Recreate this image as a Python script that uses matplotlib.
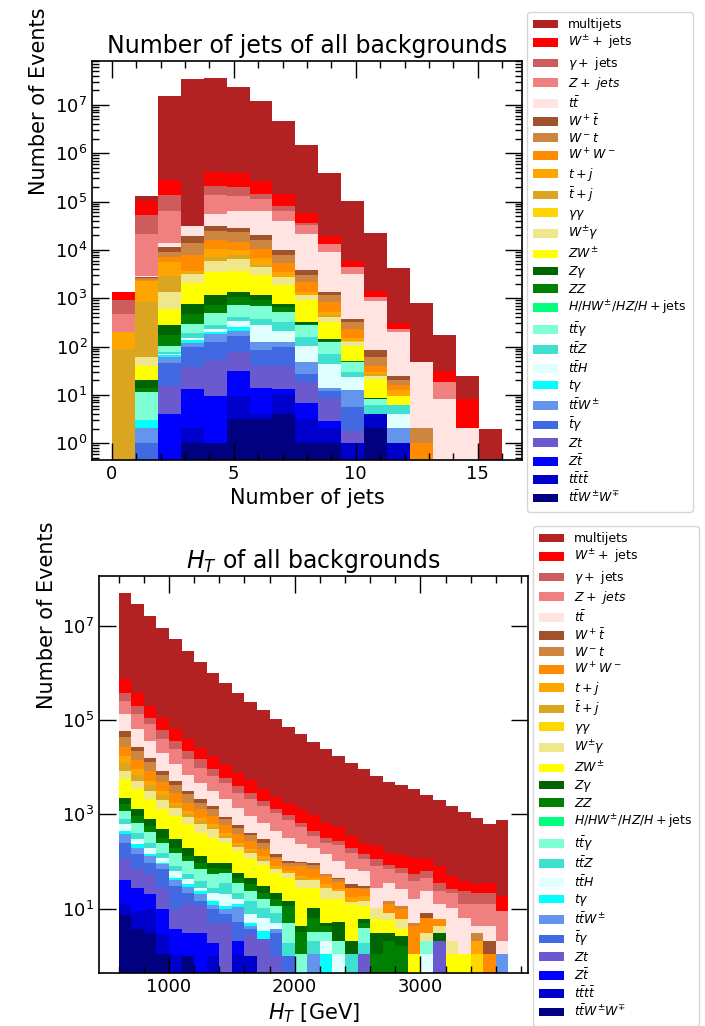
import numpy as np
import matplotlib.pyplot as plt
from matplotlib.ticker import MultipleLocator, LogLocator, NullLocator, FixedLocator, LogFormatterSciNotation

# samples in legend order (top of the stack first)
labels = ['multijets', r'$W^{\pm}+$ jets', r'$\gamma+$ jets', r'$Z+\ jets$', r'$t\bar{t}$',
          r'$W^+\bar{t}$', r'$W^-t$', r'$W^+W^-$', r'$t+j$', r'$\bar{t}+j$', r'$\gamma\gamma$',
          r'$W^{\pm}\gamma$', r'$ZW^{\pm}$', r'$Z\gamma$', r'$ZZ$', r'$H/HW^{\pm}/HZ/H+$jets',
          r'$t\bar{t}\gamma$', r'$t\bar{t}Z$', r'$t\bar{t}H$', r'$t\gamma$', r'$t\bar{t}W^{\pm}$',
          r'$\bar{t}\gamma$', r'$Zt$', r'$Z\bar{t}$', r'$t\bar{t}t\bar{t}$', r'$t\bar{t}W^{\pm}W^{\mp}$']
colors = ['firebrick', 'red', 'indianred', 'lightcoral', 'mistyrose', 'sienna', 'peru',
          'darkorange', 'orange', 'goldenrod', 'gold', 'khaki', 'yellow', 'darkgreen', 'green',
          'springgreen', 'aquamarine', 'turquoise', 'lightcyan', 'cyan', 'cornflowerblue',
          'royalblue', 'slateblue', 'blue', 'mediumblue', 'navy']

# ---- number of jets: 17 bins between 0 and 16 ----
nj_edges = np.linspace(0, 16, 18)
nj_multijets = [0, 26500, 1.52e7, 3.39e7, 3.59e7, 2.30e7, 1.15e7, 4.43e6, 1.42e6, 3.79e5, 9.64e4, 2.10e4, 3860, 747, 138, 17, 2.0]
nj_wjets = [437, 48600, 142000, 0, 203000, 199000, 122000, 61900, 21200, 6160, 1420, 341, 75, 0, 13.4, 6.0, 0]
nj_gjets = [433, 32300, 70300, 0, 80400, 70700, 29100, 16300, 3200, 0, 0, 0, 0, 0, 0, 0, 0]
nj_zjets = [279, 18500, 49000, 0, 77200, 65700, 49100, 24200, 11700, 4220, 1230, 181, 34, 0, 10.1, 0, 0]
nj_tt = [0, 130, 2910, 12600, 24600, 34900, 42700, 29100, 17600, 7770, 2860, 806, 175, 44.7, 8.1, 2.1, 0]
nj_wptbar = [0, 184, 2100, 5250, 7630, 4740, 4200, 1830, 782, 201, 56, 23.4, 5.1, 0, 0, 0, 0]
nj_wmt = [0, 171, 1880, 5860, 7770, 8650, 5990, 2700, 832, 316, 90, 21.9, 4.2, 1.1, 0, 0, 0]
nj_ww = [0, 160, 1750, 4230, 5990, 4790, 3470, 1700, 839, 307, 83, 10.3, 3.2, 1.0, 0, 0, 0]
nj_tj = [113, 1410, 2610, 404, 2990, 2060, 1860, 794, 201, 78, 13, 2.6, 3.0, 0, 0, 0, 0]
nj_tbarj = [87, 770, 1540, 75, 1490, 1630, 533, 0, 0, 40, 6, 1.8, 0, 0, 0, 0, 0]
nj_aa = [0, 0, 0, 0, 0, 0, 0, 0, 0, 0, 6, 0, 0, 0, 0, 0, 0]
nj_wa = [0, 21.9, 746, 1190, 2210, 2600, 1350, 892, 236, 83, 21, 3.7, 0, 0, 0, 0, 0]
nj_zw = [0, 19.4, 328, 1270, 2400, 2370, 1870, 1090, 588, 179, 53.7, 12.7, 3.2, 0, 0, 0, 0]
nj_za = [0, 6.6, 105, 297, 440, 302, 236, 115, 36, 13, 2.3, 0.6, 0, 0, 0, 0, 0]
nj_zz = [0, 2.6, 65, 191, 218, 339, 236, 136, 13, 9, 2.2, 0, 0, 0, 0, 0, 0]
nj_h = [0, 0, 0, 0, 0, 0, 0, 0, 0, 0, 0, 0, 0, 0, 0, 0, 0]
nj_tta = [0, 8.1, 29, 97, 215, 301, 296, 201, 120, 52, 17.3, 1.8, 0, 0, 0, 0, 0]
nj_ttz = [0, 0, 5.1, 40, 41, 76, 105, 110, 50, 27, 6.6, 2.3, 2.3, 0, 0, 0, 0]
nj_tth = [0, 0, 4.7, 16, 34, 80, 152, 91, 58, 29.6, 10.3, 0, 1.9, 0, 0, 0, 0]
nj_ta = [0, 1.05, 5.8, 15, 22, 37, 0, 0, 0, 0, 0, 0, 0, 0, 0, 0, 0]
nj_ttw = [0, 1.04, 13.5, 22, 55, 52, 40, 25, 20, 2.1, 7.0, 0, 1.04, 0, 0, 0, 0]
nj_tbara = [0, 1.0, 31, 60, 72, 86, 43, 58, 8.7, 3.3, 3.8, 0, 0, 0, 0, 0, 0]
nj_zt = [0, 0, 11.5, 24, 42, 44, 26, 26.6, 11.3, 5.8, 0.8, 0, 0, 0, 0, 0, 0]
nj_ztbar = [0, 0, 4.0, 11.1, 8.6, 22, 9.8, 3.0, 3.8, 0.8, 0, 0, 0, 0, 0, 0, 0]
nj_tttt = [0, 0, 0, 1.1, 0, 6.5, 0.9, 6.2, 2.1, 1.1, 1.0, 1.9, 1.0, 0, 0, 0, 0]
nj_ttww = [0, 0, 0, 1.0, 1.0, 3.1, 3.1, 4.0, 1.0, 1.0, 0, 2.1, 0, 0, 0, 0, 0]

# ---- H_T: 100 GeV bins from 600 to 3700 GeV ----
ht_edges = np.arange(600, 3800, 100)
ht_multijets = [5.03e7, 2.84e7, 1.61e7, 9.1e6, 5.15e6, 2.9e6, 1.69e6, 1.0e6, 5.96e5, 3.78e5, 2.43e5, 1.58e5, 1.06e5, 7.11e4, 4.88e4, 3.34e4, 2.43e4, 1.69e4, 1.22e4, 9100, 6320, 4730, 4000, 3280, 2470, 1940, 1460, 1090, 793, 579, 741]
ht_wjets = [3.53e5, 1.85e5, 87000, 51100, 27900, 17100, 11300, 8050, 4970, 3440, 2570, 1590, 1100, 815, 612, 510, 325, 278, 150, 109, 102, 71, 63, 67.5, 48, 44.6, 23.6, 14.8, 10.9, 13.8, 9.6]
ht_gjets = [1.29e5, 67000, 31300, 21300, 11200, 7400, 5000, 2820, 1460, 1110, 640, 420, 230, 195, 118, 97, 70, 52, 43, 31, 31, 14.7, 16.1, 15, 17.4, 11.9, 3.8, 11.4, 9.5, 9.5, 0]
ht_zjets = [1.23e5, 69000, 45600, 20100, 13300, 8050, 5100, 3390, 2410, 1510, 1235, 864, 605, 439, 318, 151, 109, 117, 86, 48, 52.4, 32.6, 32.3, 22.8, 21.7, 11.4, 11.3, 5.9, 8.0, 8.0, 6.8]
ht_tt = [74000, 36600, 20100, 12200, 6480, 3610, 2560, 1630, 1265, 804, 516, 350, 303, 218, 134, 106, 88.5, 57.6, 35.5, 32.6, 17.3, 21.1, 14.2, 10.7, 15.5, 6.4, 8.45, 5.3, 1.2, 2.2, 1.0]
ht_wptbar = [15000, 5200, 3000, 1590, 980, 470, 390, 230, 109, 63, 49, 45, 15, 8.6, 6.2, 8.5, 0, 3.5, 4.9, 2.4, 0, 0, 0, 0, 1.8, 0, 0, 0, 0, 1.0, 0]
ht_wmt = [16600, 7900, 4660, 1870, 1240, 900, 490, 355, 200, 145, 88, 70, 16, 14.2, 11.2, 12.4, 4.3, 5.2, 0, 1.3, 0, 2.2, 1.7, 0.75, 0, 0, 0, 0, 1.0, 0, 0]
ht_ww = [10000, 5240, 3220, 1740, 1130, 590, 427, 310, 190, 127, 91, 50, 31, 17.4, 31, 25, 16.5, 11.1, 9.9, 8.0, 0, 4.1, 3.7, 3.2, 3.3, 1.65, 0, 0, 0, 1.07, 0]
ht_tj = [4900, 2310, 980, 600, 210, 180, 129, 65, 48, 23, 17, 16, 12, 4.9, 3.8, 4.9, 4.9, 1.9, 4.1, 4.0, 0, 0, 0, 0, 0, 0, 0, 0, 1.0, 0, 0]
ht_tbarj = [4160, 1630, 1000, 520, 170, 105, 109, 68, 27, 21, 15, 12, 0, 0, 4.9, 0, 0, 0, 0, 0, 0, 0, 0, 0, 0, 0, 0, 0, 0, 0, 0]
ht_aa = [0, 0, 0, 0, 0, 0, 0, 0, 0, 0, 0, 0, 0, 0, 0, 0, 0, 0, 0, 0, 0, 0, 0, 0, 0, 0, 0, 0, 1.07, 0, 0]
ht_wa = [2780, 1720, 980, 740, 465, 280, 206, 161, 70, 40, 38, 20, 10.3, 12.5, 12.7, 12.7, 12.1, 8.0, 1.5, 3.1, 4.6, 2.3, 2.3, 0, 1.0, 1.2, 1.0, 0, 0, 0, 0]
ht_zw = [3290, 2120, 1370, 800, 629, 418, 278, 227, 160, 109, 65.6, 52.7, 36, 31, 23.5, 17.3, 10.7, 10.7, 10.2, 5.5, 2.8, 2.8, 1.0, 1.07, 0, 0, 1.07, 1.07, 0, 0, 0]
ht_za = [630, 355, 218, 161, 99, 66, 39.6, 20.4, 20.9, 12.5, 12.7, 8.4, 6.1, 3.1, 1.1, 4.1, 0.75, 3.0, 1.0, 0.9, 2.0, 1.0, 1.0, 0, 0, 1.0, 0, 0, 0, 0, 0]
ht_zz = [460, 257, 145, 70, 43, 28, 23.2, 20.5, 14.4, 9.8, 9.0, 5.5, 4.3, 6.4, 2.1, 3.2, 1.1, 0, 0, 1.1, 1.07, 2.05, 1.6, 0, 0, 0, 0, 0, 0, 0, 0]
ht_h = [0, 0, 0, 0, 0, 0, 0, 0, 0, 0, 0, 0, 0, 0, 0, 0, 0, 0, 0, 0, 0, 0, 0, 0, 0, 0, 0, 0, 0, 0, 0]
ht_tta = [367, 259, 172, 97, 74, 49.5, 29.7, 25.7, 20.5, 13.8, 9.2, 5.8, 3.2, 3.1, 1.07, 1.14, 1.14, 1.0, 0, 2.05, 0, 0, 0, 0, 1.0, 0, 0, 0, 0, 0, 0]
ht_ttz = [198, 113, 54, 33, 17.4, 11.6, 10.7, 6.0, 15.5, 6.1, 7.0, 4.1, 3.2, 0.9, 0, 1.0, 0, 0, 1.07, 0.8, 0, 0, 0, 0, 0, 0, 0, 0, 0, 0, 0]
ht_tth = [170, 64, 55, 26.6, 17.4, 9.2, 4.1, 7.3, 8.7, 3.4, 2.5, 3.1, 1.4, 0, 0, 0, 1.0, 1.07, 0, 0, 0, 0, 0, 0, 1.07, 0, 0, 0, 0, 0, 0]
ht_ta = [67, 35, 11, 7.3, 4.9, 3.5, 3.6, 2.2, 1.7, 1.8, 0.75, 1.1, 0, 0, 0, 0, 1.07, 0, 0, 0, 0, 0, 0, 0, 0, 0, 0, 0, 0, 0, 0]
ht_ttw = [127, 55, 37, 18.9, 10.3, 7.4, 5.6, 2.6, 2.1, 5.5, 0.64, 0, 0.55, 0, 0, 1.07, 0, 0, 0, 0, 0, 0, 0, 0, 0, 0, 0, 0, 0, 0, 1.07]
ht_tbara = [140, 74, 41, 40.4, 20.5, 9.5, 3.1, 4.6, 2.5, 3.0, 0.8, 0, 2.1, 0.99, 0, 0, 0, 0, 0, 0, 0, 0, 0, 0, 0, 0, 0, 0, 0, 0, 0]
ht_zt = [70.5, 40.4, 33.4, 18.1, 6.0, 9.2, 8.3, 3.1, 5.0, 0, 1.84, 2.23, 0.99, 0, 0, 0, 0, 0, 0, 1.07, 0, 0, 0, 0, 0, 2.05, 0, 0, 0, 0, 0]
ht_ztbar = [27.8, 18.9, 10.4, 6.8, 2.6, 2.08, 3.08, 0.9, 0, 1.0, 0, 0, 0, 0, 0, 0, 0, 0, 0, 0, 0, 0, 0, 0, 0, 0, 0, 0, 0, 0, 0]
ht_tttt = [5.5, 5.3, 6.6, 1.8, 1.07, 0, 0, 0.99, 0, 1.07, 1.0, 0, 0, 0, 0, 0, 0, 0, 0, 0, 0, 0, 0, 0, 0, 0, 0, 0, 0, 0, 0]
ht_ttww = [7.2, 3.6, 3.1, 1.07, 0, 1.0, 0, 0, 0, 0, 0, 0, 0, 0, 0, 0, 0, 0, 0, 0, 0, 0, 0, 0, 0, 0, 0, 0, 0, 0, 0]

nj_samples = [nj_multijets, nj_wjets, nj_gjets, nj_zjets, nj_tt, nj_wptbar, nj_wmt, nj_ww, nj_tj,
              nj_tbarj, nj_aa, nj_wa, nj_zw, nj_za, nj_zz, nj_h, nj_tta, nj_ttz, nj_tth, nj_ta,
              nj_ttw, nj_tbara, nj_zt, nj_ztbar, nj_tttt, nj_ttww]
ht_samples = [ht_multijets, ht_wjets, ht_gjets, ht_zjets, ht_tt, ht_wptbar, ht_wmt, ht_ww, ht_tj,
              ht_tbarj, ht_aa, ht_wa, ht_zw, ht_za, ht_zz, ht_h, ht_tta, ht_ttz, ht_tth, ht_ta,
              ht_ttw, ht_tbara, ht_zt, ht_ztbar, ht_tttt, ht_ttww]


def stacked_hist(ax, edges, samples):
    centers = 0.5 * (edges[:-1] + edges[1:])
    # stack from the smallest sample up, multijets ends on top
    ax.hist([centers] * len(samples), bins=edges, weights=samples[::-1], stacked=True,
            color=colors[::-1], label=labels[::-1], log=True, histtype='bar')


def style_axes(ax):
    ax.tick_params(which='both', direction='in', top=True, right=True, labelsize=13, width=1.0)
    ax.tick_params(which='major', length=12)
    ax.tick_params(which='minor', length=5)
    for sp in ax.spines.values():
        sp.set_linewidth(1.2)


def add_legend(fig, ax, x, y):
    handles, labs = ax.get_legend_handles_labels()
    fig.legend(handles[::-1], labs[::-1], loc='upper left', bbox_to_anchor=(x, y),
               bbox_transform=fig.transFigure, fontsize=9, labelspacing=0.23,
               handlelength=2.0, borderpad=0.5, borderaxespad=0)


fig = plt.figure(figsize=(7.05, 10.26), dpi=100)

# top: number of jets
ax1 = fig.add_axes([0.1308, 0.5517, 0.6091, 0.3889])
stacked_hist(ax1, nj_edges, nj_samples)
ax1.set_xlim(-0.8, 16.8)
ax1.set_ylim(0.45, 8.1e7)
ax1.xaxis.set_major_locator(MultipleLocator(5))
ax1.xaxis.set_minor_locator(MultipleLocator(1))
ax1.yaxis.set_major_locator(LogLocator(base=10, numticks=20))
ax1.yaxis.set_minor_locator(LogLocator(base=10, subs=np.arange(2, 10), numticks=20))
style_axes(ax1)
ax1.set_title('Number of jets of all backgrounds', fontsize=17)
ax1.set_xlabel('Number of jets', fontsize=15)
ax1.set_ylabel('Number of Events', fontsize=15, y=0.9)
add_legend(fig, ax1, 527 / 705, 1 - 12 / 1026)

# bottom: H_T
ax2 = fig.add_axes([0.1407, 0.0517, 0.6081, 0.3869])
stacked_hist(ax2, ht_edges, ht_samples)
ax2.set_xlim(445, 3855)
ax2.set_ylim(0.43, 1.15e8)
ax2.xaxis.set_major_locator(MultipleLocator(1000))
ax2.xaxis.set_minor_locator(MultipleLocator(200))
ax2.yaxis.set_major_locator(FixedLocator([1e1, 1e3, 1e5, 1e7]))
ax2.yaxis.set_major_formatter(LogFormatterSciNotation())
ax2.yaxis.set_minor_locator(NullLocator())
style_axes(ax2)
ax2.set_title(r'$H_T$ of all backgrounds', fontsize=17)
ax2.set_xlabel(r'$H_T$ [GeV]', fontsize=15)
ax2.set_ylabel('Number of Events', fontsize=15, y=0.9)
add_legend(fig, ax2, 533 / 705, 1 - 526 / 1026)

fig.savefig('out.png', dpi=100)
